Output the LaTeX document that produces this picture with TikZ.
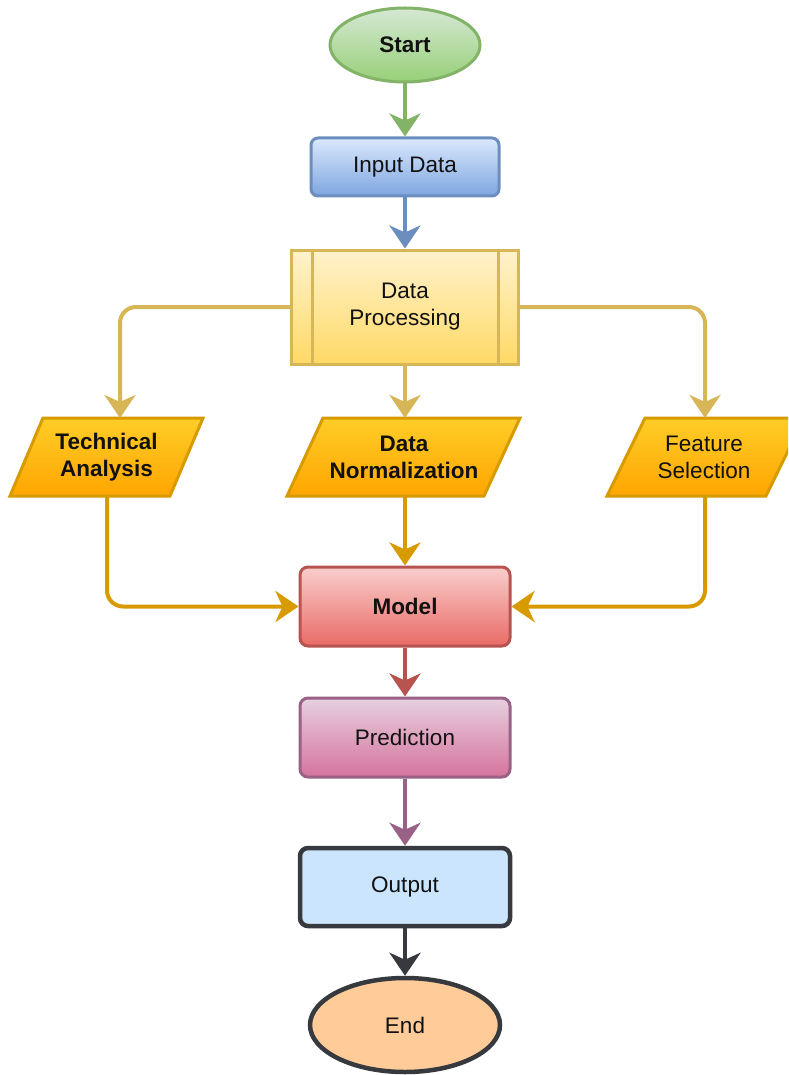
\documentclass[tikz,border=0pt]{standalone}
\usepackage{fontspec}
\setmainfont{Liberation Sans}
\usetikzlibrary{shapes.geometric,arrows.meta,calc}

\definecolor{startTop}{HTML}{D5E8D4}
\definecolor{startBot}{HTML}{97D077}
\definecolor{startLine}{HTML}{82B366}
\definecolor{inTop}{HTML}{DAE8FC}
\definecolor{inBot}{HTML}{7EA6E0}
\definecolor{inLine}{HTML}{6C8EBF}
\definecolor{procTop}{HTML}{FFF2CC}
\definecolor{procBot}{HTML}{FFD966}
\definecolor{procLine}{HTML}{D6B656}
\definecolor{parTop}{HTML}{FFCD28}
\definecolor{parBot}{HTML}{FFA500}
\definecolor{parLine}{HTML}{D79B00}
\definecolor{modTop}{HTML}{F8CECC}
\definecolor{modBot}{HTML}{EA6B66}
\definecolor{modLine}{HTML}{B85450}
\definecolor{preTop}{HTML}{E6D0DE}
\definecolor{preBot}{HTML}{D5739D}
\definecolor{preLine}{HTML}{996185}
\definecolor{outFill}{HTML}{CCE5FF}
\definecolor{darkLine}{HTML}{36393D}
\definecolor{endFill}{HTML}{FFCC99}
\definecolor{ink}{HTML}{111111}

\newcommand\lbl{\fontsize{22.5}{27}\selectfont}

\begin{document}
\begin{tikzpicture}[x=1pt,y=-1pt,
  txt/.style={align=center, font=\lbl, text=ink, inner sep=0pt},
  oval/.style={txt, ellipse, line width=3pt},
  card/.style={txt, rectangle, rounded corners=8pt, minimum width=210pt, minimum height=79pt, line width=3pt},
  para/.style={line width=3pt, draw=parLine, top color=parTop, bottom color=parBot},
  flow/.style={line width=4pt, rounded corners=16pt,
    -{Stealth[length=23pt, width=31pt, inset=7pt]}}
]
\useasboundingbox (0,0) rectangle (788,1075);
\fill[white] (0,0) rectangle (788,1075);
\clip (0,0) rectangle (788,1075);

% terminal and process nodes
\node[oval, font=\lbl\bfseries, minimum width=150pt, minimum height=74pt,
      draw=startLine, top color=startTop, bottom color=startBot] (start) at (405,45) {Start};
\node[card, rounded corners=7pt, minimum width=188pt, minimum height=58pt,
      draw=inLine, top color=inTop, bottom color=inBot] (input) at (405,167) {Input Data};
\node[txt, rectangle, minimum width=227pt, minimum height=114pt, line width=3pt,
      draw=procLine, top color=procTop, bottom color=procBot] (proc) at (405,307) {Data\\Processing};
\draw[procLine, line width=3pt] ($(proc.north west)+(22,0)$) -- ($(proc.south west)+(22,0)$);
\draw[procLine, line width=3pt] ($(proc.north east)+(-22,0)$) -- ($(proc.south east)+(-22,0)$);

% input/output parallelograms
\path[para] (10,496) -- (43,418) -- (203,418) -- (170,496) -- cycle;
\node[txt, font=\lbl\bfseries] (tech) at (106.5,457) {Technical\\Analysis};
\path[para] (287,496) -- (323,418) -- (520,418) -- (484,496) -- cycle;
\node[txt, font=\lbl\bfseries] (norm) at (404,457) {Data\\Normalization};
\path[para] (607,496) -- (645,418) -- (804,418) -- (766,496) -- cycle;
\node[txt] (feat) at (704,457) {Feature\\Selection};

\coordinate (techIn) at (120,418);
\coordinate (techOut) at (107,496);
\coordinate (normIn) at (405,418);
\coordinate (normOut) at (405,496);
\coordinate (featIn) at (705,418);
\coordinate (featOut) at (705,496);

\node[card, font=\lbl\bfseries, draw=modLine, top color=modTop, bottom color=modBot] (model) at (405,606.5) {Model};
\node[card, draw=preLine, top color=preTop, bottom color=preBot] (pred) at (405,737.5) {Prediction};
\node[card, minimum height=78pt, line width=4.5pt, draw=darkLine, fill=outFill] (out) at (405,887) {Output};
\node[oval, line width=4.5pt, minimum width=190pt, minimum height=94pt,
      draw=darkLine, fill=endFill] (end) at (405,1025) {End};

% connectors
\draw[flow, startLine] (start) -- (input);
\draw[flow, inLine] (input) -- (proc);
\draw[flow, procLine] (proc.west) -| (techIn);
\draw[flow, procLine] (proc.south) -- (normIn);
\draw[flow, procLine] (proc.east) -| (featIn);
\draw[flow, parLine] (techOut) |- (model.west);
\draw[flow, parLine] (normOut) -- (model.north);
\draw[flow, parLine] (featOut) |- (model.east);
\draw[flow, modLine] (model) -- (pred);
\draw[flow, preLine] (pred) -- (out);
\draw[flow, darkLine] (out) -- (end);
\end{tikzpicture}
\end{document}
